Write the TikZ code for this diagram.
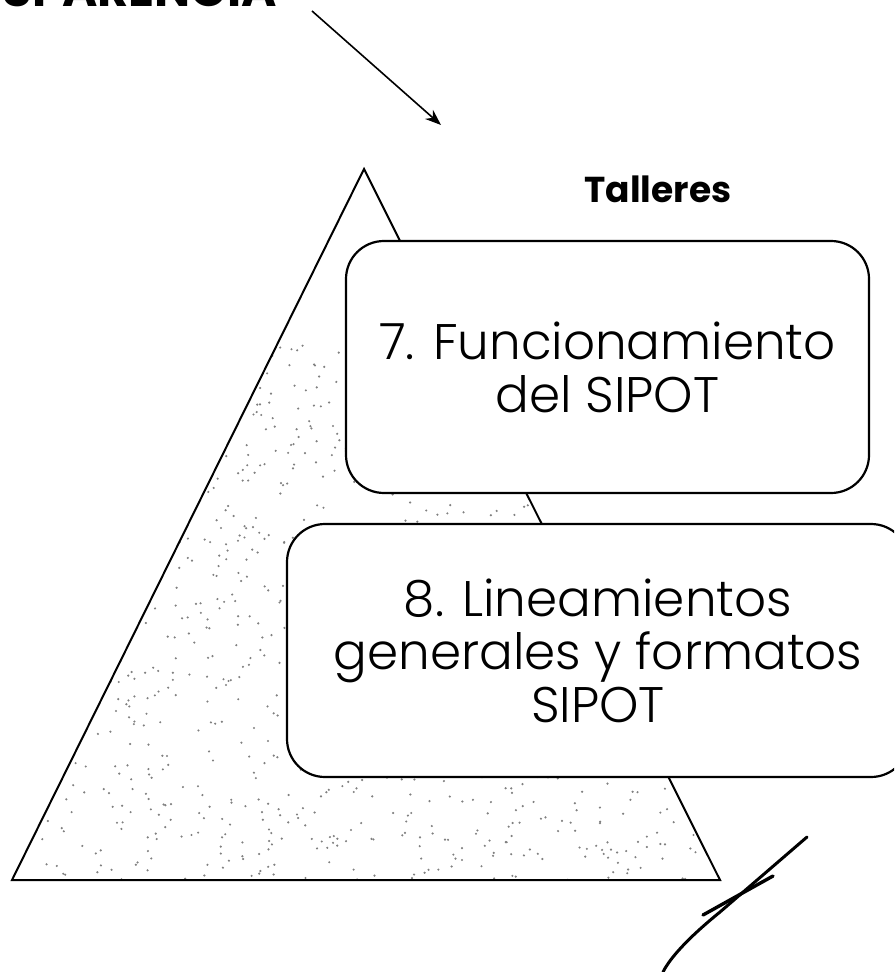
\documentclass[tikz,border=0pt]{standalone}
\usepackage{fontspec}
\setmainfont{Poppins}
\IfFontExistsTF{Poppins Light}{\newfontfamily\lightfont{Poppins Light}}{\newfontfamily\lightfont{Poppins}}
\usetikzlibrary{arrows.meta}

\begin{document}
\begin{tikzpicture}[x=0.5pt, y=-0.5pt, >={Stealth[length=8pt,width=6pt]},
    taller/.style={draw, line width=1.1pt, fill=white, rounded corners=19pt,
      align=center, inner sep=0pt, font=\lightfont\fontsize{25}{26.5}\selectfont},
    dot/.style={fill=black!50}]
  \useasboundingbox (0,0) rectangle (894,972);
  \clip (0,0) rectangle (894,972);

  \node[anchor=base east, font=\bfseries\fontsize{24}{24}\selectfont] (title) at (284,7) {TRANSPARENCIA};
  \coordinate (s) at (312,11);
  \coordinate (e) at (441,125);
  \draw[->, line width=0.8pt] (s) -- (e);

  \coordinate (top) at (364,169);
  \coordinate (bl) at (12,880);
  \coordinate (br) at (720,880);
  \begin{scope}
    \clip (top) -- (bl) -- (br) -- cycle;
    \pgfmathsetseed{7}
    \foreach \i in {1,...,1300}
      \fill[dot] ({12+708*rnd},{345+535*rnd}) circle[radius=0.6pt];
  \end{scope}
  \draw[line width=1pt, line join=miter] (top) -- (bl) -- (br) -- cycle;

  \node[font=\bfseries\fontsize{18}{18}\selectfont, anchor=base] (tal) at (658,203) {Talleres};
  \node[taller, minimum width=261.5pt, minimum height=126pt] (f7) at (607.5,367) {7. Funcionamiento\\del SIPOT};
  \node[taller, minimum width=311pt, minimum height=126.5pt] (f8) at (598,650.5) {8. Lineamientos\\generales y formatos\\SIPOT};

  \draw[line width=1.5pt, line cap=round] (663,972) .. controls (670,958) and (688,938) .. (720,912) -- (807,837);
  \draw[line width=1.7pt, line cap=round] (703,915) -- (773,876);
\end{tikzpicture}
\end{document}
